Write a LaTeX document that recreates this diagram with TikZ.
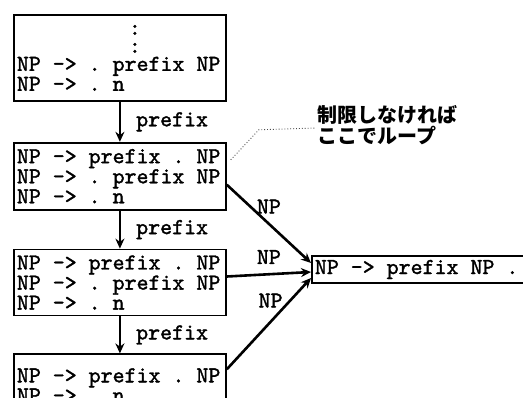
\documentclass[tikz,border=0pt]{standalone}
\usepackage{fontspec}
\setmonofont{lmmono10-regular.otf}[AutoFakeBold=1.5]
\newfontfamily\jpfont{Noto Sans CJK JP}
\newcommand{\ttspacing}{\spaceskip=0.525em\relax\xspaceskip=0.525em\relax}
\usetikzlibrary{arrows.meta, positioning}

\begin{document}
\begin{tikzpicture}[
    x=1pt, y=-1pt,
    >={Stealth[length=10pt, width=9pt]},
    font=\fontsize{22.8}{18}\selectfont\ttfamily\bfseries,
    state/.style={draw, line width=1.8pt, anchor=north west, minimum width=212pt, text width=206pt, inner xsep=3pt, inner ysep=4pt, align=left, execute at begin node=\ttspacing},
    trans/.style={->, line width=2.6pt},
    lbl/.style={inner sep=1pt},
    note/.style={font=\jpfont\bfseries\fontsize{20}{19}\selectfont, align=left, inner sep=1pt}
  ]
    \useasboundingbox (0,0) rectangle (523,397);
    \clip (0,0) rectangle (523,397);
    \node[state, minimum height=86pt] (s1) at (13,14)
    {\hspace*{112pt}:\\
     \hspace*{112pt}:\\
     NP -> . prefix NP\\
     NP -> . n};
    \node[state, minimum height=67pt, below=40pt of s1] (s2)
    {NP -> prefix . NP\\
     NP -> . prefix NP\\
     NP -> . n};
    \node[state, minimum height=66pt, below=38pt of s2] (s3)
    {NP -> prefix . NP\\
     NP -> . prefix NP\\
     NP -> . n};
    \node[state, minimum height=62pt, below=37pt of s3] (s4)
    {NP -> prefix . NP\\
     NP -> . n};
    \node[state, anchor=west, minimum width=212pt, minimum height=26pt] (res) at (311,269.5)
    {NP -> prefix NP .};
    \node[note, anchor=west] (loop) at (316,125)
    {制限しなければ\\ここでループ};
    \draw[trans] (s1) -- (s2) node[lbl, midway, right=14pt] {prefix};
    \draw[trans] (s2) -- (s3) node[lbl, midway, right=14pt] {prefix};
    \draw[trans] (s3) -- (s4) node[lbl, midway, right=14pt] {prefix};
    \draw[trans] ([yshift=-8.5pt]s2.east) -- ([yshift=6.5pt]res.west)
      node[lbl, pos=0.5, above=8pt] {NP};
    \draw[trans] ([yshift=6pt]s3.east) -- ([yshift=-2.5pt]res.west)
      node[lbl, midway, above=8pt] {NP};
    \draw[trans] ([yshift=16pt]s4.east) -- ([yshift=-8.5pt]res.west)
      node[lbl, pos=0.52, above=12pt] {NP};
    \draw[dotted, line width=0.9pt, black!70] ([xshift=4pt, yshift=-18pt]s2.north east) -- ++(28,-30)
      -- ([yshift=-3pt]loop.west);
  \end{tikzpicture}
\end{document}
